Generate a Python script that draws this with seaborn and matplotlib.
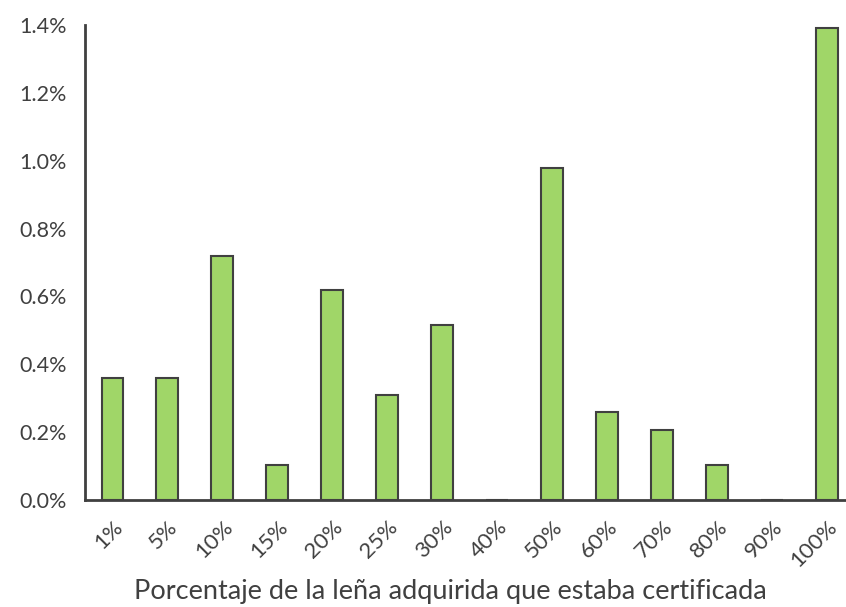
import matplotlib
matplotlib.use("Agg")
import matplotlib.pyplot as plt
import seaborn as sns
import pandas as pd
from matplotlib.ticker import FuncFormatter, FixedLocator

categorias = ['1%', '5%', '10%', '15%', '20%', '25%', '30%', '40%',
              '50%', '60%', '70%', '80%', '90%', '100%']
porcentaje_hogares = [0.36, 0.36, 0.72, 0.103, 0.619, 0.309, 0.516, 0.0,
                      0.978, 0.258, 0.206, 0.103, 0.0, 1.39]

df = pd.DataFrame({'Certificada': categorias, 'Porcentaje': porcentaje_hogares})

texto = '#404040'
sns.set_style('white')
plt.rcParams['font.family'] = ['Lato', 'DejaVu Sans']
plt.rcParams['text.color'] = texto
plt.rcParams['axes.labelcolor'] = texto
plt.rcParams['xtick.color'] = texto
plt.rcParams['ytick.color'] = texto

fig = plt.figure(figsize=(8.46, 6.07), dpi=100)
ax = fig.add_axes([0.1005, 0.1763, 0.8985, 0.7825])

sns.barplot(data=df, x='Certificada', y='Porcentaje', color='#a0d668',
            edgecolor='#404040', linewidth=1.5, width=0.4, saturation=1, ax=ax)

ax.set_ylim(0, 1.4)
ax.set_xlim(-0.5, 13.33)
ax.yaxis.set_major_locator(FixedLocator([0, 0.2, 0.4, 0.6, 0.8, 1.0, 1.2, 1.4]))
ax.yaxis.set_major_formatter(FuncFormatter(lambda v, p: f'{v:.1f}%'))

# marcas en los limites entre categorias, etiquetas centradas
ax.xaxis.set_minor_locator(FixedLocator([i - 0.5 for i in range(15)]))
ax.tick_params(axis='x', which='major', length=0, labelsize=16, pad=12)
ax.tick_params(axis='x', which='minor', length=7, width=2, color='#404040')
ax.tick_params(axis='y', which='major', length=7, width=2, color='#404040',
               labelsize=15.5, pad=6)
for lab in ax.get_xticklabels():
    lab.set_rotation(45)
    lab.set_ha('right')
    lab.set_va('top')
    lab.set_rotation_mode('anchor')

sns.despine(ax=ax)
for s in ['left', 'bottom']:
    ax.spines[s].set_color('#404040')
    ax.spines[s].set_linewidth(2)
    ax.spines[s].set_zorder(5)

ax.set_xlabel('Porcentaje de la leña adquirida que estaba certificada',
              fontsize=19.5)
ax.xaxis.label.set_va('baseline')
ax.xaxis.set_label_coords(0.48, -0.208)
ax.set_ylabel('')

fig.savefig('out.png', dpi=100)
